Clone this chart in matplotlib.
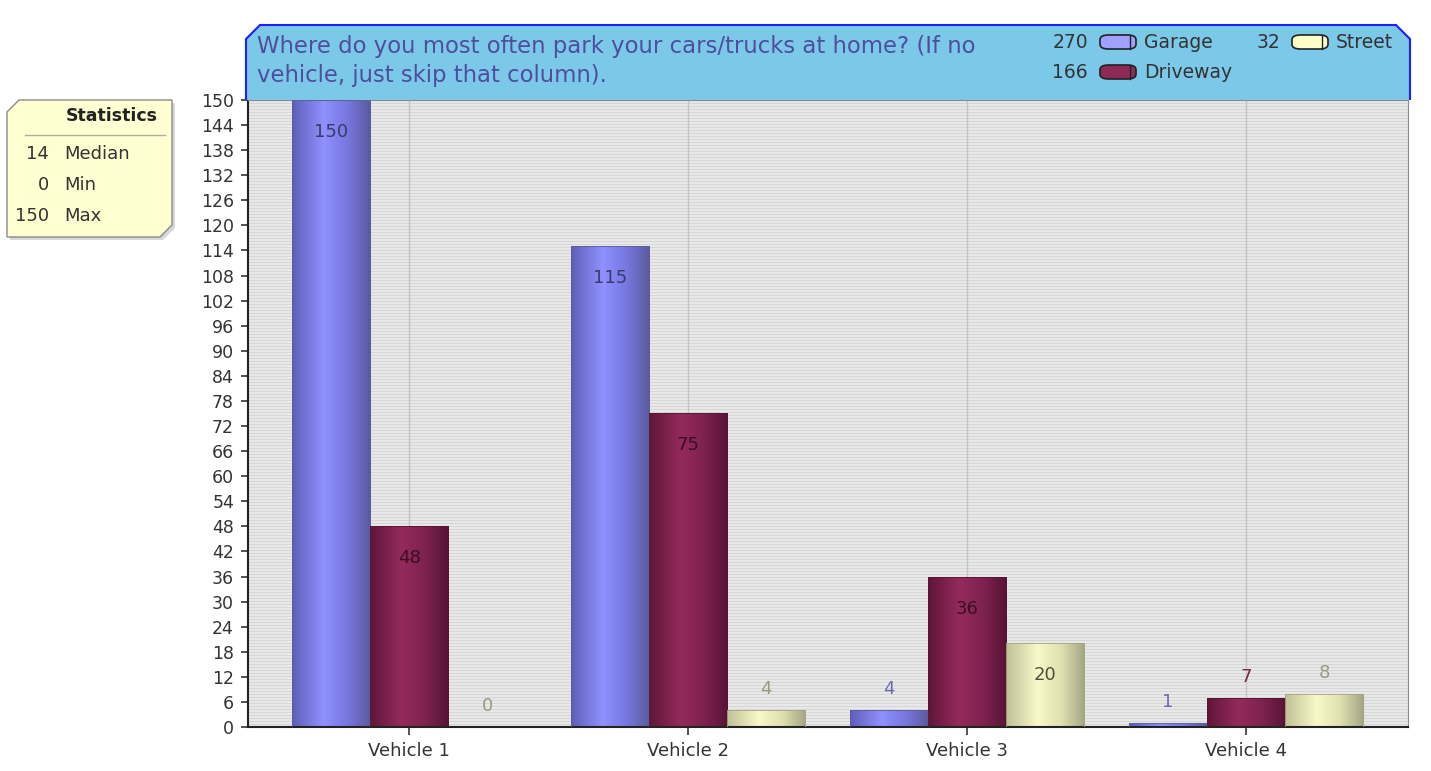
import numpy as np
import matplotlib
matplotlib.use("Agg")
import matplotlib.pyplot as plt
from matplotlib.patches import Polygon, FancyBboxPatch
from matplotlib.colors import LinearSegmentedColormap

categories = ["Vehicle 1", "Vehicle 2", "Vehicle 3", "Vehicle 4"]
series_names = ["Garage", "Driveway", "Street"]
garage = [150, 115, 4, 1]
driveway = [48, 75, 36, 7]
street = [0, 4, 20, 8]
series_totals = [270, 166, 32]
y_ticks = list(range(0, 151, 6))
title = "Where do you most often park your cars/trucks at home? (If no\nvehicle, just skip that column)."
stats_labels = ["Median", "Min", "Max"]
stats_values = [14, 0, 150]

series = [garage, driveway, street]
grad_colors = [
    ["#5e5eb8", "#9090ff", "#7878e0", "#5a5a9c"],
    ["#5e1638", "#942a5c", "#7e2250", "#561434"],
    ["#c0c098", "#f8f8c8", "#e0e0b0", "#a4a484"],
]
legend_face = ["#a0a0ff", "#8e2a56", "#ffffc8"]
out_label_col = ["#6a6ab0", "#7a2a4a", "#9a9a80"]
in_label_col = ["#3a3a6a", "#3a1020", "#505040"]

W, H = 1431, 771
fig = plt.figure(figsize=(W / 100, H / 100), dpi=100)
fig.patch.set_facecolor("white")

def fx(px):
    return px / W

def fy(py):
    return 1 - py / H

ax = fig.add_axes([fx(248), fy(727), fx(1408) - fx(248), fy(100) - fy(727)])
ax.set_facecolor("#e4e4e4")

# striped background (3 px period)
n_rows = 627
stripe = np.array([[0.0] if i % 3 == 0 else [1.0] for i in range(n_rows)])
stripe_cmap = LinearSegmentedColormap.from_list("s", ["#d6d6d6", "#e8e8e8"])
ax.imshow(stripe, extent=[0, 1, 0, 1], transform=ax.transAxes, aspect="auto",
          cmap=stripe_cmap, interpolation="nearest", zorder=0)

x = np.arange(len(categories))
width = 0.28
offsets = [-width, 0, width]

for c in x:
    ax.axvline(c, color="#c4c4c4", lw=1, zorder=1)

grad = np.linspace(0, 1, 256).reshape(1, -1)
for si, vals in enumerate(series):
    cmap = LinearSegmentedColormap.from_list(
        "g%d" % si, list(zip([0, 0.4, 0.7, 1.0], grad_colors[si])))
    bars = ax.bar(x + offsets[si], vals, width=width, color="none",
                  edgecolor=grad_colors[si][3], linewidth=0.6, zorder=3)
    for b, v in zip(bars, vals):
        if v > 0:
            im = ax.imshow(grad, extent=[b.get_x(), b.get_x() + b.get_width(), 0, v],
                           aspect="auto", cmap=cmap, zorder=2, interpolation="bilinear")
            im.set_clip_path(b)
        cx = b.get_x() + b.get_width() / 2
        if v >= 12:
            ax.annotate(str(v), (cx, v), xytext=(0, -32), textcoords="offset pixels",
                        ha="center", va="center", fontsize=13,
                        color=in_label_col[si], zorder=5)
        else:
            ax.annotate(str(v), (cx, v), xytext=(0, 21), textcoords="offset pixels",
                        ha="center", va="center", fontsize=13,
                        color=out_label_col[si], zorder=5)

ax.set_xlim(-0.577, 3.58)
ax.set_ylim(0, 150)
ax.set_yticks(y_ticks)
ax.set_xticks(x)
ax.set_xticklabels(categories)
ax.tick_params(axis="y", labelsize=12.5, colors="#333333", length=5, width=1.2, pad=5)
ax.tick_params(axis="x", labelsize=13, colors="#333333", length=6, width=1.2, pad=5)
for lab in ax.get_yticklabels() + ax.get_xticklabels():
    lab.set_color("#333333")
ax.spines["left"].set_color("#222222")
ax.spines["left"].set_linewidth(1.5)
ax.spines["bottom"].set_color("#222222")
ax.spines["bottom"].set_linewidth(1.5)
ax.spines["right"].set_color("#8a8a8a")
ax.spines["top"].set_color("#8a8a8a")

# title box
c = 12
tb = [(246, 100), (246, 25 + c + 2), (246 + c + 2, 25), (1410 - c - 2, 25), (1410, 25 + c + 2), (1410, 100)]
poly = Polygon([(fx(a), fy(b)) for a, b in tb], closed=False, transform=fig.transFigure,
               facecolor="#7cc8e8", edgecolor="#1e1eff", linewidth=1.5, zorder=0)
fig.patches.append(poly)
fig.text(fx(257), fy(61), title, ha="left", va="center", fontsize=16.4,
         color="#4e4e9e", linespacing=1.37)

# legend
leg_pos = [(1088, 42), (1088, 72), (1280, 42)]
for si, (lx, ly) in enumerate(leg_pos):
    fig.text(fx(lx), fy(ly), str(series_totals[si]), ha="right", va="center",
             fontsize=13.5, color="#333333")
    cap = FancyBboxPatch((fx(lx + 12), fy(ly + 7)), fx(36), fy(0) - fy(14),
                         boxstyle="round,pad=0,rounding_size=0.006",
                         transform=fig.transFigure, facecolor=legend_face[si],
                         edgecolor="#222222", linewidth=1.2)
    fig.patches.append(cap)
    fig.add_artist(plt.Line2D([fx(lx + 42), fx(lx + 42)], [fy(ly + 7), fy(ly - 7)],
                              transform=fig.transFigure, color="#222222", lw=1))
    fig.text(fx(lx + 56), fy(ly), series_names[si], ha="left", va="center",
             fontsize=13.5, color="#333333")

# statistics box
sb = [(7, 112), (19, 100), (172, 100), (172, 225), (160, 237), (7, 237)]
shadow = Polygon([(fx(a + 3), fy(b + 3)) for a, b in sb], closed=True,
                 transform=fig.transFigure, facecolor="#d8d8d8", edgecolor="none", zorder=0)
fig.patches.append(shadow)
spoly = Polygon([(fx(a), fy(b)) for a, b in sb], closed=True, transform=fig.transFigure,
                facecolor="#ffffd2", edgecolor="#8a8a8a", linewidth=1, zorder=1)
fig.patches.append(spoly)
fig.text(fx(158), fy(116), "Statistics", ha="right", va="center", fontsize=12.5,
         fontweight="bold", color="#222222")
fig.add_artist(plt.Line2D([fx(25), fx(165)], [fy(135), fy(135)],
                          transform=fig.transFigure, color="#b0b0a0", lw=1))
for i, (lab, val) in enumerate(zip(stats_labels, stats_values)):
    yy = 154 + i * 31
    fig.text(fx(49), fy(yy), str(val), ha="right", va="center", fontsize=13, color="#333333")
    fig.text(fx(64), fy(yy), lab, ha="left", va="center", fontsize=13, color="#333333")

fig.savefig("out.png", dpi=100)
